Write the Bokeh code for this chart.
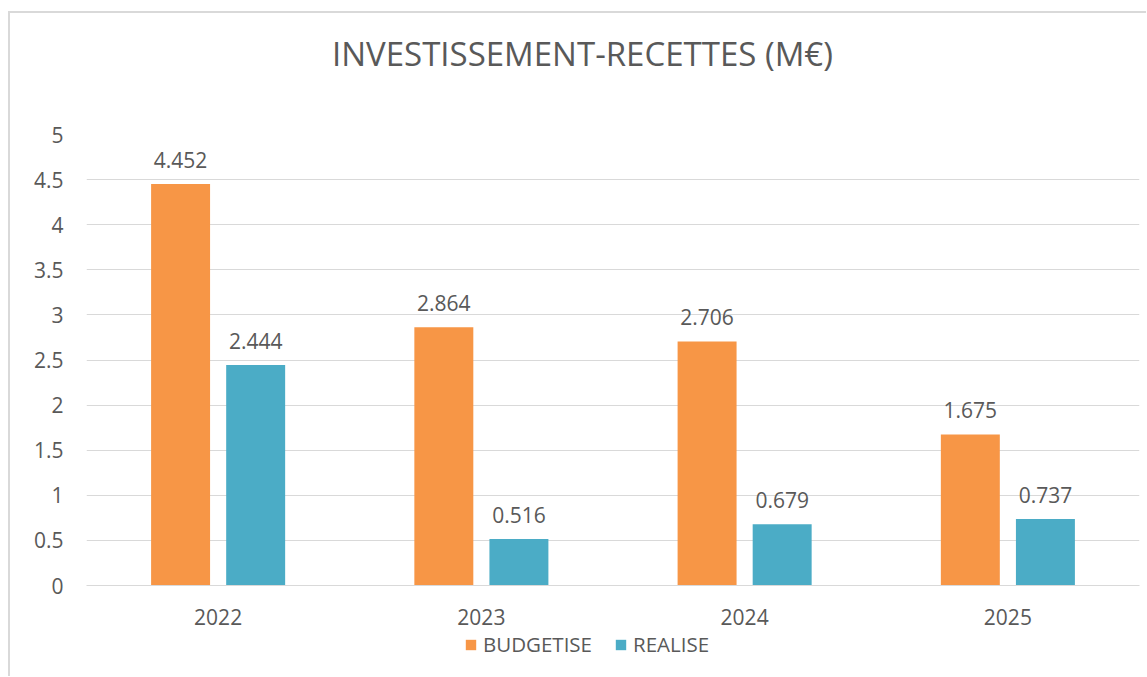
from bokeh.plotting import figure
from bokeh.models import ColumnDataSource, LabelSet, Legend, LegendItem, FactorRange, Range1d, Div
from bokeh.layouts import column
from bokeh.core.properties import value
from bokeh.transform import dodge
from bokeh.embed import file_html
from bokeh.resources import INLINE

years = ["2022", "2023", "2024", "2025"]
budgetise = [4.452, 2.864, 2.706, 1.675]
realise = [2.444, 0.516, 0.679, 0.737]
yticks = [0, 0.5, 1, 1.5, 2, 2.5, 3, 3.5, 4, 4.5, 5]
title_text = "INVESTISSEMENT-RECETTES (M€)"

ORANGE = "#F79646"
BLUE = "#4BACC6"
GRAY = "#595959"
FONT = "Open Sans"

src = ColumnDataSource(dict(
    years=years,
    b=budgetise,
    r=realise,
    bl=[str(v) for v in budgetise],
    rl=[str(v) for v in realise],
))

title_div = Div(
    text=('<div style="padding:18px 0 0 322px; font-family:\'Open Sans\'; font-size:33px; '
          'line-height:45px; color:%s; white-space:nowrap; margin:0;">%s</div>') % (GRAY, title_text),
    width=1136, height=64, margin=(0, 0, 0, 0))

p = figure(x_range=FactorRange(*years, range_padding=0), y_range=(0, 5),
           width=1136, height=554, output_backend="svg", toolbar_location=None,
           min_border_left=76, min_border_right=7, min_border_top=57, min_border_bottom=46)

rb = p.vbar(x=dodge("years", -0.1426, range=p.x_range), top="b", width=0.224, source=src,
            fill_color=ORANGE, line_color=None)
rr = p.vbar(x=dodge("years", 0.1426, range=p.x_range), top="r", width=0.224, source=src,
            fill_color=BLUE, line_color=None)

for col, lab, off in (("b", "bl", -0.1426), ("r", "rl", 0.1426)):
    ls = LabelSet(x=dodge("years", off, range=p.x_range), y=col, text=lab, source=src,
                  text_align="center", text_baseline="bottom", y_offset=16,
                  text_font=value(FONT), text_font_size="21px", text_color=GRAY)
    p.add_layout(ls)

p.yaxis.ticker = yticks
p.yaxis.axis_line_color = None
p.yaxis.major_tick_line_color = None
p.yaxis.minor_tick_line_color = None
p.yaxis.major_label_standoff = 17
p.yaxis.major_label_text_font = FONT
p.yaxis.major_label_text_font_size = "21px"
p.yaxis.major_label_text_color = GRAY

p.xaxis.axis_line_color = "#d9d9d9"
p.xaxis.axis_line_width = 1
p.xaxis.major_tick_line_color = None
p.xaxis.minor_tick_line_color = None
p.xaxis.major_label_standoff = 17
p.xaxis.major_label_text_font = FONT
p.xaxis.major_label_text_font_size = "21px"
p.xaxis.major_label_text_color = GRAY

p.xgrid.grid_line_color = None
p.ygrid.grid_line_color = "#d9d9d9"
p.ygrid.grid_line_width = 1
p.outline_line_color = None

# legend strip (separate small figure so the legend is not clipped by the frame)
pl = figure(x_range=FactorRange(*years), y_range=Range1d(100, 101),
            width=1136, height=45, output_backend="svg", toolbar_location=None,
            min_border=0, x_axis_location=None, y_axis_location=None)
pl.xgrid.grid_line_color = None
pl.ygrid.grid_line_color = None
pl.outline_line_color = None
lb = pl.vbar(x="years", top="b", width=0.2, source=src, fill_color=ORANGE, line_color=None)
lr = pl.vbar(x="years", top="r", width=0.2, source=src, fill_color=BLUE, line_color=None)
legend = Legend(items=[LegendItem(label="BUDGETISE", renderers=[lb]),
                       LegendItem(label="REALISE", renderers=[lr])],
                location=(378, 18), orientation="horizontal",
                label_text_font=FONT, label_text_font_size="20.5px", label_text_color=GRAY,
                glyph_width=13, glyph_height=13, label_standoff=6, spacing=22,
                padding=0, margin=0, border_line_color=None, background_fill_alpha=0)
pl.add_layout(legend, "center")

layout = column(title_div, p, pl, spacing=0,
                styles={"border-left": "2px solid #d9d9d9", "border-top": "2px solid #d9d9d9",
                        "margin-left": "8px", "margin-top": "11px"})

open("out.html", "w").write(file_html(layout, INLINE))
